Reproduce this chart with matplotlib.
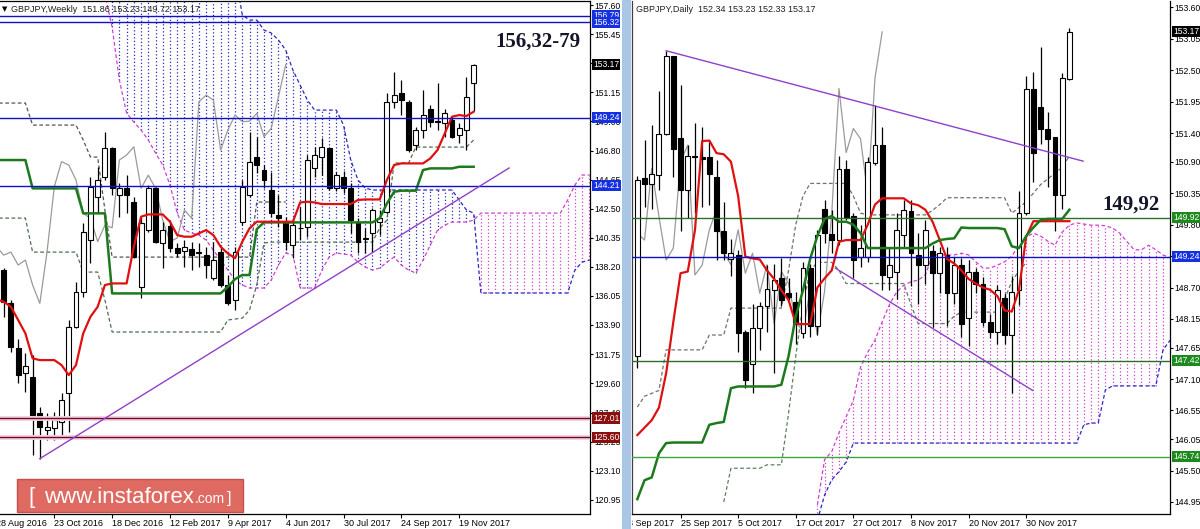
import matplotlib.pyplot as plt
import matplotlib.transforms as mtransforms
from matplotlib.patches import Rectangle, FancyBboxPatch
import numpy as np
import pandas as pd

W, H = 1200, 529

# ---------------- weekly GBPJPY, bar k = weeks after 28 Aug 2016 (bars 1..66) ----------------
w_open = [137.97, 135.50, 132.17, 130.31, 130.07, 127.35, 126.12, 126.24, 126.74, 128.83,
          133.77, 136.36, 140.19, 143.40, 144.88, 146.98, 143.52, 144.02, 143.03, 136.73,
          140.93, 144.02, 139.94, 141.23, 139.57, 139.40, 139.50, 139.20, 139.08, 137.35,
          139.33, 136.86, 135.75, 141.55, 143.53, 146.37, 145.38, 143.90, 142.04, 141.55,
          139.82, 141.06, 141.18, 145.50, 146.37, 146.98, 144.02, 144.88, 144.02, 141.55,
          140.30, 140.69, 141.55, 142.29, 150.44, 151.10, 150.44, 147.23, 148.34, 149.87,
          148.96, 148.83, 149.08, 147.97, 148.34, 151.86]
w_high = [138.10, 135.75, 132.90, 131.79, 131.67, 127.85, 127.35, 127.48, 128.83, 134.27,
          137.10, 141.43, 144.88, 145.62, 148.22, 147.10, 144.40, 145.00, 143.40, 141.92,
          144.27, 144.14, 141.55, 141.67, 139.94, 140.20, 140.07, 139.94, 139.70, 140.07,
          139.70, 137.60, 139.70, 144.64, 148.20, 147.85, 145.75, 145.25, 143.53, 141.92,
          141.67, 142.66, 146.49, 147.10, 147.72, 147.10, 145.20, 145.30, 144.39, 141.80,
          141.06, 142.54, 142.40, 151.06, 152.66, 152.04, 150.56, 148.59, 151.30, 150.20,
          151.80, 149.87, 149.33, 148.83, 152.29, 153.23]
w_low = [134.50, 131.90, 129.57, 128.96, 124.30, 124.00, 125.38, 125.38, 125.75, 125.99,
         133.65, 136.00, 138.46, 142.17, 144.64, 143.52, 141.90, 142.17, 138.90, 135.87,
         140.80, 139.94, 138.09, 139.30, 138.96, 138.20, 137.97, 138.22, 137.35, 137.20,
         136.73, 135.38, 135.01, 141.30, 143.40, 145.13, 144.02, 141.92, 141.18, 139.45,
         138.83, 140.20, 140.44, 144.88, 145.00, 143.90, 143.80, 143.70, 140.69, 139.20,
         139.20, 139.33, 140.60, 142.17, 149.94, 149.45, 146.74, 146.86, 147.72, 148.60,
         148.34, 147.85, 147.72, 147.35, 146.86, 149.72]
w_close = [135.62, 132.29, 130.19, 130.86, 127.23, 126.36, 126.36, 126.86, 128.34, 133.77,
           136.36, 140.81, 144.14, 144.64, 146.98, 144.02, 144.02, 143.52, 138.96, 141.43,
           144.02, 140.07, 140.93, 139.57, 139.20, 139.70, 139.08, 139.30, 138.34, 138.71,
           136.86, 135.50, 139.33, 144.14, 146.00, 145.75, 144.64, 142.17, 141.80, 140.07,
           141.30, 141.10, 146.12, 146.49, 147.10, 144.02, 145.00, 144.02, 141.67, 140.07,
           140.35, 142.42, 141.80, 150.44, 150.93, 150.56, 146.86, 148.34, 149.45, 148.96,
           149.00, 149.57, 147.85, 148.46, 150.81, 153.17]

# ichimoku lines, bars 0..66
w_tenkan = [135.80, 135.62, 135.25, 134.27, 133.28, 131.43, 131.30, 131.30, 131.30, 130.93,
            130.19, 130.93, 133.28, 134.51, 135.25, 136.86, 136.98, 136.98, 136.98, 139.70,
            141.92, 142.09, 142.09, 142.09, 141.55, 140.56, 140.44, 140.44, 140.69, 140.93,
            140.56, 139.70, 139.20, 138.85, 140.07, 141.06, 141.55, 141.55, 141.55, 141.55,
            141.55, 141.55, 142.98, 143.03, 142.98, 142.86, 142.86, 142.86, 142.86, 142.86,
            143.16, 143.20, 143.20, 143.20, 144.64, 145.75, 145.87, 145.87, 145.87, 145.87,
            146.24, 146.86, 148.09, 149.33, 149.45, 149.38, 149.70]
w_kijun = ([146.12] * 5 + [144.02] * 7 + [142.17] * 4 + [136.24] * 16 + [136.73, 137.30, 137.60, 137.60, 141.00]
           + [141.50] * 16 + [141.80, 142.90, 143.77] + [143.85] * 3 + [145.38] + [145.50] * 4 + [145.62] * 3)
# senkou spans, bars 15..82
w_span_a = ([158.34, 155.97, 152.04, 149.60, 148.93, 148.34, 147.60, 146.64, 145.75, 144.27,
             142.19, 140.93, 140.71, 140.56, 140.19, 139.45, 138.71, 137.97, 137.23, 136.86,
             136.64, 136.64, 136.64, 137.23, 138.34, 139.23, 139.08, 136.64, 136.64, 136.64,
             137.97, 138.93, 139.23, 139.16, 139.08, 138.56, 138.19, 137.97, 138.12, 138.56,
             138.93, 138.34, 137.97, 137.75, 138.71, 139.82, 140.93, 141.30, 141.53, 141.53,
             141.53, 141.67] + [142.19] * 12 + [143.16, 144.27, 145.01, 145.01])
w_span_b = ([160.00] * 19 + [156.86, 156.49, 156.49, 155.75, 155.53, 155.01, 154.27, 152.78, 151.67, 150.56]
            + [149.82] * 4 + [148.71, 146.12, 144.64, 144.04] + [143.90] * 12 + [143.16, 142.42, 142.19]
            + [136.27] * 13 + [137.97, 138.56, 138.71])
# extra dashed step lines
w_dash1 = ([150.34] * 5 + [148.71] * 7 + [147.60] + [146.34] * 2 + [142.41] + [138.93] * 20
           + [143.01] * 5)
w_dash2 = ([141.82] * 5 + [139.30] * 7 + [137.82] * 3 + [135.75] + [133.38] * 16
           + [134.27, 134.34, 134.41, 135.01, 136.86, 139.97] + [140.04] * 15 + [141.08, 141.67]
           + [145.90] * 3 + [147.08] * 8 + [147.60])

w_levels_blue = [156.79, 156.32, 149.24, 144.21]
w_levels_red = [127.01, 125.60]
w_trend = ([6, 70.9], [124.00, 145.53])
w_tick_labels = ['120.95', '123.10', '125.25', '127.40', '129.60', '131.75', '133.90', '136.05', '138.20',
                 '140.35', '142.50', '144.65', '146.80', '149.00', '151.15', '153.30', '155.45', '157.60']
w_date_labels = ['2016-08-28', '2016-10-23', '2016-12-18', '2017-02-12', '2017-04-09',
                 '2017-06-04', '2017-07-30', '2017-09-24', '2017-11-19']

# ---------------- daily GBPJPY, bar i = trading days after 15 Sep 2017 (0..60) ----------------
d_open = [147.50, 150.61, 150.51, 150.67, 151.38, 152.74, 151.31, 150.40, 151.00, 150.98,
          150.98, 150.63, 149.68, 149.20, 149.27, 147.93, 147.37, 147.99, 148.38, 148.66,
          148.86, 148.60, 148.45, 147.90, 149.05, 148.02, 150.07, 149.64, 149.53, 150.78,
          149.95, 149.24, 149.24, 150.87, 151.19, 148.89, 148.98, 149.62, 150.03, 149.27,
          149.10, 149.33, 148.95, 149.27, 148.60, 149.10, 148.16, 148.98, 148.77, 148.10,
          147.93, 148.51, 147.87, 148.66, 150.00, 152.18, 151.85, 151.47, 151.33, 150.32, 152.34]
d_high = [150.65, 151.28, 151.54, 152.13, 152.84, 152.74, 152.24, 151.19, 151.57, 151.50,
          151.28, 150.93, 150.20, 149.55, 149.36, 147.96, 148.42, 148.45, 149.10, 149.12,
          149.21, 148.86, 148.63, 149.15, 149.12, 149.70, 150.23, 150.06, 151.00, 150.93,
          150.00, 149.80, 150.99, 151.89, 151.51, 149.41, 150.00, 150.23, 150.23, 149.65,
          149.88, 149.45, 149.41, 149.41, 149.24, 149.21, 149.18, 149.04, 148.89, 148.24,
          148.75, 148.60, 148.90, 150.38, 152.39, 152.47, 152.91, 151.77, 151.34, 152.45, 153.23]
d_low = [147.30, 150.11, 150.08, 150.40, 151.37, 150.64, 149.68, 149.91, 150.00, 150.10,
         150.14, 149.18, 149.18, 148.90, 147.58, 146.94, 146.85, 147.60, 147.93, 147.20,
         148.37, 148.48, 147.72, 147.81, 147.84, 147.87, 149.47, 149.30, 149.44, 149.88,
         148.86, 149.06, 149.15, 150.84, 148.66, 148.66, 148.50, 149.41, 148.72, 148.42,
         148.77, 148.01, 148.60, 148.02, 148.42, 147.84, 147.67, 148.60, 148.02, 147.81,
         147.72, 147.72, 146.85, 148.40, 149.97, 150.55, 151.21, 150.46, 149.68, 150.08, 152.33]
d_close = [150.58, 150.51, 150.68, 151.38, 152.75, 151.13, 150.40, 151.00, 150.98, 150.95,
           150.69, 149.68, 149.30, 149.30, 147.90, 147.08, 147.99, 148.38, 148.67, 148.83,
           148.48, 148.54, 148.07, 149.05, 148.02, 149.62, 149.65, 149.53, 150.78, 149.94,
           149.18, 149.39, 150.90, 151.19, 148.92, 149.09, 149.71, 150.06, 149.30, 149.10,
           149.71, 148.95, 149.30, 148.60, 149.10, 148.07, 148.98, 148.77, 148.10, 147.93,
           148.66, 147.87, 148.63, 150.00, 152.18, 151.06, 151.48, 151.30, 150.32, 152.36, 153.17]

d_tenkan = [146.12, 146.25, 146.38, 146.60, 147.20, 148.10, 148.95, 148.98, 149.70, 151.26,
            151.27, 151.05, 151.03, 150.90, 150.30, 149.24, 149.21, 149.19, 149.00, 148.85,
            148.65, 148.48, 148.07, 148.06, 148.06, 148.70, 148.86, 149.00, 149.50, 149.53,
            149.53, 149.53, 149.80, 150.15, 150.26, 150.26, 150.26, 150.26, 150.17, 150.14,
            150.06, 149.85, 149.53, 149.20, 149.12, 149.00, 148.85, 148.77, 148.70, 148.66,
            148.55, 148.30, 148.28, 148.66, 149.59, 149.86, 149.86, 149.86, 149.86, 149.86, 149.86]
d_kijun = [145.00, 145.33, 145.38, 145.80, 145.98, 145.99, 145.99, 145.99, 145.99, 145.99,
           146.30, 146.33, 146.35, 146.94, 146.97, 146.97, 146.97, 146.97, 146.97, 146.97,
           147.00, 147.50, 148.20, 148.65, 149.20, 149.60, 149.90, 149.95, 149.85, 149.85,
           149.80, 149.65, 149.39, 149.39, 149.39, 149.39, 149.39, 149.39, 149.39, 149.39,
           149.39, 149.47, 149.53, 149.55, 149.56, 149.75, 149.74, 149.74, 149.74, 149.74,
           149.74, 149.72, 149.42, 149.39, 149.60, 149.75, 149.88, 149.90, 149.90, 149.90, 150.06]
# senkou spans, bars 25..74
d_span_a = [144.90, 145.69, 145.83, 146.16, 146.44, 146.73, 147.31, 147.57, 147.78, 148.10,
            148.40, 148.62, 148.74, 148.80, 148.83, 148.92, 149.27, 149.27, 149.27, 149.27,
            149.30, 149.27, 149.15, 149.04, 149.04, 149.09, 149.15, 149.25, 149.44, 149.58,
            149.65, 149.60, 149.51, 149.44, 149.67, 149.79, 149.83, 149.81, 149.79, 149.79,
            149.78, 149.74, 149.65, 149.50, 149.36, 149.36, 149.44, 149.36, 149.27, 149.22]
d_span_b = ([144.63, 145.07, 145.34, 145.48, 145.65] + [145.98] * 32 + [146.30, 146.33, 146.33, 146.91]
            + [146.98] * 7 + [147.61, 147.78])
d_dash1 = ([146.61, 146.80, 146.85, 146.90] + [147.61] * 6 + [147.87] * 3 + [148.34] * 8
           + [149.00, 149.80, 150.30] + [150.52] * 6 + [150.30, 150.00] + [149.97] * 9 + [150.05, 150.15]
           + [150.27] * 9 + [150.00, 150.10, 150.20, 150.35, 150.50, 150.60, 150.70, 150.80, 151.00])
d_dash2 = ([np.nan] * 12 + [144.95] + [145.54] * 5 + [145.60] * 3 + [146.50, 147.50, 148.40, 149.00]
           + [149.14] * 3 + [149.00] + [148.77] * 9 + [148.40] + [148.07] * 5 + [148.20] + [148.27] * 6
           + [148.50, 148.80, 149.00, 149.13])

d_levels = {149.92: '#2a6e2a', 149.24: '#1010c8', 147.42: '#2a6e2a', 145.74: '#3aa83a'}
d_trend_up = ([4, 61.9], [152.84, 150.91])
d_trend_dn = ([27.5, 54.9], [149.04, 146.90])
d_tick_labels = ['144.95', '145.50', '146.05', '146.55', '147.10', '147.65', '148.15', '148.70', '149.25',
                 '149.80', '150.35', '150.90', '151.40', '151.95', '152.50', '153.05', '153.60']
d_date_labels = ['2017-09-13', '2017-09-25', '2017-10-05', '2017-10-17', '2017-10-27',
                 '2017-11-08', '2017-11-20', '2017-11-30']

FONT = ['Liberation Sans', 'DejaVu Sans']
plt.rcParams['font.family'] = FONT
LBL = 6.2

fig = plt.figure(figsize=(W / 100, H / 100), dpi=100)
fig.patch.set_facecolor('white')


def px_axes(x0, x1, y0, y1):
    return fig.add_axes([x0 / W, 1 - y1 / H, (x1 - x0) / W, (y1 - y0) / H])


def draw_candles(ax, x, o, h, l, c, minh):
    o, h, l, c = map(np.asarray, (o, h, l, c))
    ax.vlines(x, l, h, color='black', lw=0.9, zorder=4)
    up = c >= o
    bottom = np.minimum(o, c)
    height = np.maximum(np.abs(c - o), minh)
    ax.bar(x, height, 0.68, bottom, color=['white' if u else 'black' for u in up],
           edgecolor='black', lw=0.8, zorder=5)


def draw_cloud(ax, xs, a, b, up_col='#d040d0', dn_col='#2828c0'):
    xs = np.asarray(xs, float)
    a = np.asarray(a)
    b = np.asarray(b)
    up = a >= b
    ax.vlines(xs[up], b[up], a[up], colors=up_col, linestyles=(0, (1, 1.8)), lw=0.9, zorder=1)
    ax.vlines(xs[~up], a[~up], b[~up], colors=dn_col, linestyles=(0, (1, 1.8)), lw=0.9, zorder=1)
    ax.plot(xs, a, color=up_col, ls=(0, (3, 2)), lw=0.9, zorder=2)
    ax.plot(xs, b, color=dn_col, ls=(0, (3, 2)), lw=0.9, zorder=2)


def price_tag(ax, width_px, y, text, color):
    ax.text(1 + 3 / width_px, y, text, transform=ax.get_yaxis_transform(), fontsize=LBL,
            color='white', va='center', ha='left', zorder=10, clip_on=False,
            bbox=dict(boxstyle='square,pad=0.12', fc=color, ec='none'))


def style_axes(ax, tick_labels, top=True):
    ax.set_facecolor('white')
    ax.spines['left'].set_visible(False)
    ax.spines['top'].set_visible(top)
    for s in ax.spines.values():
        s.set_linewidth(0.9)
    ax.yaxis.tick_right()
    ax.set_yticks([float(t) for t in tick_labels])
    ax.set_yticklabels(tick_labels)
    ax.tick_params(axis='y', length=2, width=0.8, pad=1.2, labelsize=LBL)
    ax.tick_params(axis='x', length=3, width=0.8, labelbottom=False)


# ---------------- weekly panel ----------------
axw = px_axes(0, 590, 1, 514)
axw.set_xlim(0.49, 82.09)
axw.set_ylim(119.90, 157.90)
style_axes(axw, w_tick_labels)

kw = np.arange(1, len(w_close) + 1)
draw_cloud(axw, np.arange(15, 15 + len(w_span_a)), w_span_a, w_span_b)
axw.plot(np.arange(len(w_dash1)), w_dash1, color='#555555', ls=(0, (3, 2)), lw=0.9, zorder=2)
axw.plot(np.arange(len(w_dash2)), w_dash2, color='#4f6f4f', ls=(0, (3, 2)), lw=0.9, zorder=2)
# chikou = close shifted 26 weeks back (bars 26..66 drawn at 0..40)
axw.plot(np.arange(len(w_close) - 25), w_close[25:], color='#9a9a9a', lw=0.9, zorder=3)
draw_candles(axw, kw, w_open, w_high, w_low, w_close, 0.06)
axw.plot(np.arange(len(w_kijun)), w_kijun, color='#1c7a1c', lw=1.8, zorder=6)
axw.plot(np.arange(len(w_tenkan)), w_tenkan, color='#e01010', lw=1.6, zorder=6)
for lv in w_levels_blue:
    axw.axhline(lv, color='#1010c8', lw=1, zorder=7)
for lv in w_levels_red:
    axw.axhline(lv, color='#f6d0e0', lw=3.5, zorder=6)
    axw.axhline(lv, color='#6a0a28', lw=1, zorder=7)
axw.plot(*w_trend, color='#9040c8', lw=1, zorder=7)

for lv, col in [(156.79, '#1530e0'), (156.32, '#1530e0'), (153.17, 'black'), (149.24, '#1530e0'),
                (144.21, '#1530e0'), (127.01, '#8a1010'), (125.60, '#8a1010')]:
    price_tag(axw, 590, lv, f'{lv:.2f}', col)

w_start = pd.Timestamp('2016-08-28')
w_pos = [(pd.Timestamp(d) - w_start).days / 7 for d in w_date_labels]
axw.set_xticks([p for p in w_pos if p > 0.49])
for p, d in zip(w_pos, w_date_labels):
    t = pd.Timestamp(d)
    axw.text(p, -5 / 513, f"{t.day} {t.strftime('%b %Y')}", transform=axw.get_xaxis_transform(),
             fontsize=6.5, ha='left', va='top', clip_on=False)

axw.text(2 / 590, 1 - 8 / 513, '\u25bc', transform=axw.transAxes, fontsize=5, va='center',
         family=['DejaVu Sans'])
axw.text(11 / 590, 1 - 8 / 513, 'GBPJPY,Weekly  151.86 153.23 149.72 153.17', transform=axw.transAxes,
         fontsize=6.5, va='center', color='#202020', zorder=10)

# ---------------- daily panel ----------------
axd = px_axes(632, 1170, 1, 514)
axd.set_xlim(-0.74, 73.97)
axd.set_ylim(144.74, 153.71)
style_axes(axd, d_tick_labels, top=False)
axd.spines['left'].set_visible(True)
axd.spines['left'].set_color('#404040')

idx = np.arange(len(d_close))
draw_cloud(axd, np.arange(25, 25 + len(d_span_a)), d_span_a, d_span_b)
axd.plot(np.arange(len(d_dash1)), d_dash1, color='#707070', ls=(0, (3, 2)), lw=0.9, zorder=2)
axd.plot(np.arange(len(d_dash2)), d_dash2, color='#5f7f5f', ls=(0, (3, 2)), lw=0.9, zorder=2)
axd.plot(idx[26:] - 26, d_close[26:], color='#9a9a9a', lw=0.9, zorder=3)
draw_candles(axd, idx, d_open, d_high, d_low, d_close, 0.02)
axd.plot(idx, d_tenkan, color='#e01010', lw=1.6, zorder=6)
axd.plot(idx, d_kijun, color='#1c7a1c', lw=1.8, zorder=6)
for lv, col in d_levels.items():
    axd.axhline(lv, color=col, lw=1, zorder=7)
axd.plot(*d_trend_up, color='#9040c8', lw=1, zorder=7)
axd.plot(*d_trend_dn, color='#9040c8', lw=1, zorder=7)

for lv, col in [(153.17, 'black'), (149.92, '#1e8a1e'), (149.24, '#1530e0'),
                (147.42, '#1e8a1e'), (145.74, '#1e8a1e')]:
    price_tag(axd, 538, lv, f'{lv:.2f}', col)

d_pos = [int(np.busday_count('2017-09-15', d)) for d in d_date_labels]
axd.set_xticks([p for p in d_pos if p >= 0])
clip = mtransforms.TransformedBbox(mtransforms.Bbox([[632 / W, 0], [1, 1]]), fig.transFigure)
for p, d in zip(d_pos, d_date_labels):
    t = pd.Timestamp(d)
    txt = axd.text(p, -5 / 513, f"{t.day} {t.strftime('%b %Y')}", transform=axd.get_xaxis_transform(),
                   fontsize=6.5, ha='left', va='top')
    txt.set_clip_box(clip)
    txt.set_clip_on(True)

axd.text(4 / 538, 1 - 8 / 513, 'GBPJPY,Daily  152.34 153.23 152.33 153.17', transform=axd.transAxes,
         fontsize=6.5, va='center', color='#202020', zorder=10)

# window separator strip
fig.add_artist(Rectangle((622 / W, 0), 9 / W, 1, transform=fig.transFigure,
                         facecolor='#a9c6e6', edgecolor='none'))

# annotations
fig.text(538 / W, 1 - 42 / H, '156,32-79', fontsize=15, fontweight='bold',
         family=['Liberation Serif', 'DejaVu Serif'], color='#14142a', ha='center', va='center')
fig.text(1131 / W, 1 - 205 / H, '149,92', fontsize=15, fontweight='bold',
         family=['Liberation Serif', 'DejaVu Serif'], color='#14142a', ha='center', va='center')

# watermark
fig.add_artist(FancyBboxPatch((17 / W, 1 - 512 / H), 226 / W, 33 / H, boxstyle='square,pad=0',
                              transform=fig.transFigure, facecolor='#df6a62', edgecolor='#c4504a', lw=1))
wm_font = ['Liberation Sans']
base = 1 - 503 / H
fig.text(28 / W, base, '[', fontsize=16, color='white', family=wm_font, va='baseline')
fig.text(44 / W, base, 'www.instaforex', fontsize=16, color='white', family=wm_font, va='baseline')
fig.text(195 / W, base, '.com', fontsize=10, color='white', family=wm_font, va='baseline')
fig.text(227 / W, base, ']', fontsize=12, color='white', family=wm_font, va='baseline')

fig.savefig('out.png', dpi=100)
